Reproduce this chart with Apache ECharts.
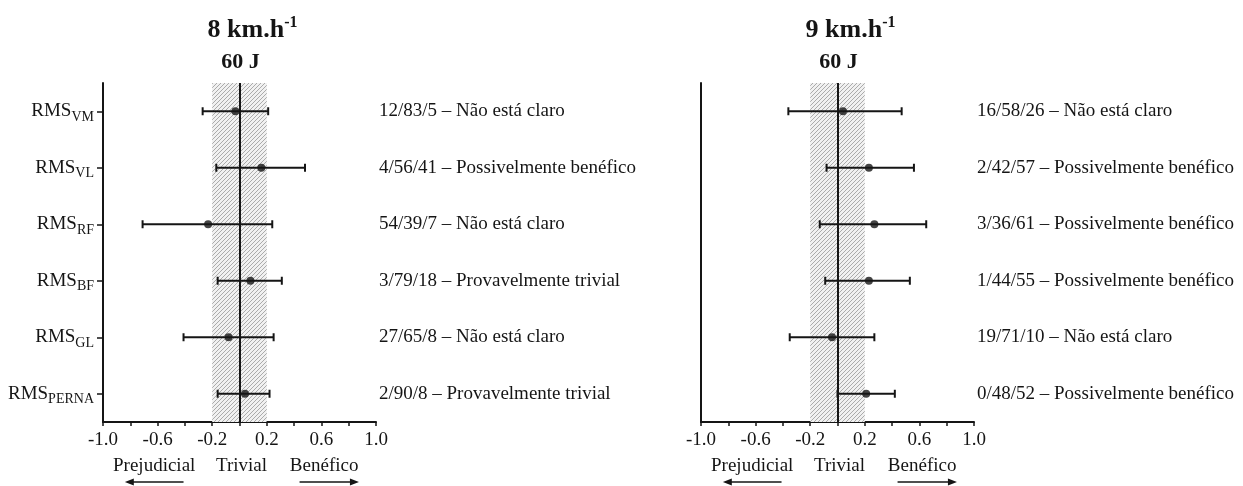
<!DOCTYPE html>
<html>
<head>
<meta charset="utf-8">
<script src="https://cdn.jsdelivr.net/npm/echarts@6/dist/echarts.min.js"></script>
<style>
  html, body { margin: 0; padding: 0; background: #fff; }
  #chart { width: 1243px; height: 486px; }
</style>
</head>
<body>
<div id="chart"></div>
<script>
// Muscles (subscript part of each RMS label), top to bottom
const muscles = ['VM', 'VL', 'RF', 'BF', 'GL', 'PERNA'];

// Panel headings
const speeds = ['8 km.h', '9 km.h'];
const energy = '60 J';

// 8 km/h: effect size and 90% confidence limits
const mean8 = [-0.03, 0.16, -0.23, 0.08, -0.08, 0.04];
const low8  = [-0.27, -0.17, -0.71, -0.16, -0.41, -0.16];
const high8 = [0.21, 0.48, 0.24, 0.31, 0.25, 0.22];
const verdict8 = [
  '12/83/5 – Não está claro',
  '4/56/41 – Possivelmente benéfico',
  '54/39/7 – Não está claro',
  '3/79/18 – Provavelmente trivial',
  '27/65/8 – Não está claro',
  '2/90/8 – Provavelmente trivial'
];

// 9 km/h: effect size and 90% confidence limits
const mean9 = [0.04, 0.23, 0.27, 0.23, -0.04, 0.21];
const low9  = [-0.36, -0.08, -0.13, -0.09, -0.35, 0.00];
const high9 = [0.47, 0.56, 0.65, 0.53, 0.27, 0.42];
const verdict9 = [
  '16/58/26 – Não está claro',
  '2/42/57 – Possivelmente benéfico',
  '3/36/61 – Possivelmente benéfico',
  '1/44/55 – Possivelmente benéfico',
  '19/71/10 – Não está claro',
  '0/48/52 – Possivelmente benéfico'
];

// Smallest worthwhile change band and axis range
const trivialBand = [-0.2, 0.2];
const xRange = [-1, 1];
const xStep = 0.2;

// Direction captions under each axis
const captions = ['Prejudicial', 'Trivial', 'Benéfico'];

const FONT = '"Liberation Serif", "Times New Roman", serif';
const INK = '#151515';

function hatchPattern() {
  const c = document.createElement('canvas');
  c.width = 4; c.height = 4;
  const g = c.getContext('2d');
  g.fillStyle = '#f1f1f1';
  g.fillRect(0, 0, 4, 4);
  g.strokeStyle = '#ababab';
  g.lineWidth = 1;
  g.beginPath();
  g.moveTo(-1, 5); g.lineTo(5, -1);
  g.moveTo(-1, 1); g.lineTo(1, -1);
  g.moveTo(3, 5); g.lineTo(5, 3);
  g.stroke();
  return c;
}
const hatch = hatchPattern();

function renderErrorBar(params, api) {
  const cat = api.value(0);
  const a = api.coord([api.value(1), cat]);
  const b = api.coord([api.value(2), cat]);
  const cap = 4;
  const style = { stroke: INK, lineWidth: 2 };
  return {
    type: 'group',
    children: [
      { type: 'line', shape: { x1: a[0], y1: a[1], x2: b[0], y2: b[1] }, style },
      { type: 'line', shape: { x1: a[0], y1: a[1] - cap, x2: a[0], y2: a[1] + cap }, style },
      { type: 'line', shape: { x1: b[0], y1: b[1] - cap, x2: b[0], y2: b[1] + cap }, style }
    ]
  };
}

function xAxisFor(gridIndex) {
  return {
    type: 'value', gridIndex,
    min: xRange[0], max: xRange[1], interval: xStep,
    splitLine: { show: false },
    axisLine: { show: true, onZero: false, lineStyle: { color: INK, width: 2 } },
    axisTick: { show: true, length: 4, lineStyle: { color: INK, width: 1.5 } },
    axisLabel: {
      margin: 9, fontFamily: FONT, fontSize: 19, color: INK,
      formatter: v => (Math.round((v - xRange[0]) / xStep) % 2 === 0 ? v.toFixed(1) : '')
    }
  };
}

function categoryAxis(gridIndex, withLabels) {
  return {
    type: 'category', gridIndex, inverse: true, data: muscles,
    axisLine: { show: true, onZero: false, lineStyle: { color: INK, width: 2 } },
    axisTick: { show: withLabels, alignWithLabel: true, length: 6, lineStyle: { color: INK, width: 1.5 } },
    axisLabel: {
      show: withLabels, margin: 9,
      formatter: v => '{a|RMS}{s|' + v + '}',
      rich: {
        a: { fontFamily: FONT, fontSize: 19, color: INK, lineHeight: 26 },
        s: { fontFamily: FONT, fontSize: 14, color: INK, verticalAlign: 'bottom', lineHeight: 14 }
      }
    },
    splitLine: { show: false }
  };
}

function verdictAxis(gridIndex, labels) {
  return {
    type: 'category', gridIndex, inverse: true, position: 'right', data: labels,
    axisLine: { show: false }, axisTick: { show: false }, splitLine: { show: false },
    axisLabel: { margin: 3, fontFamily: FONT, fontSize: 19, color: INK, align: 'left' }
  };
}

function panelSeries(xi, yi, mean, low, high) {
  return [
    {
      type: 'custom', xAxisIndex: xi, yAxisIndex: yi, z: 4,
      renderItem: renderErrorBar,
      encode: { x: [1, 2], y: 0 },
      data: muscles.map((m, i) => [i, low[i], high[i]]),
      silent: true
    },
    {
      type: 'scatter', xAxisIndex: xi, yAxisIndex: yi, z: 5,
      symbol: 'circle', symbolSize: 8,
      itemStyle: { color: INK },
      data: muscles.map((m, i) => [mean[i], i]),
      silent: true,
      markArea: {
        silent: true,
        itemStyle: { color: { image: hatch, repeat: 'repeat' } },
        data: [[{ xAxis: trivialBand[0] }, { xAxis: trivialBand[1] }]]
      },
      markLine: {
        silent: true, symbol: ['none', 'none'],
        label: { show: false },
        lineStyle: { color: INK, width: 2, type: 'solid' },
        data: [{ xAxis: 0 }]
      }
    }
  ];
}

const chart = echarts.init(document.getElementById('chart'), null, { renderer: 'canvas' });

chart.setOption({
  animation: false,
  backgroundColor: '#ffffff',
  grid: [
    { left: 103, right: 867, top: 83, bottom: 64 },
    { left: 701, right: 269, top: 83, bottom: 64 }
  ],
  xAxis: [xAxisFor(0), xAxisFor(1)],
  yAxis: [
    categoryAxis(0, true), verdictAxis(0, verdict8),
    categoryAxis(1, false), verdictAxis(1, verdict9)
  ],
  series: [
    ...panelSeries(0, 0, mean8, low8, high8),
    ...panelSeries(1, 2, mean9, low9, high9)
  ]
});

// Headings, direction captions and arrows, positioned on each panel's x scale
const graphics = [];
[0, 1].forEach(p => {
  const px = v => chart.convertToPixel({ xAxisIndex: p }, v);
  const x0 = px(0);
  graphics.push({
    type: 'text', x: x0 + 13, y: 30,
    style: {
      text: '{a|' + speeds[p] + '}{s|-1}', align: 'center', verticalAlign: 'middle',
      rich: {
        a: { fontFamily: FONT, fontSize: 26, fontWeight: 'bold', fill: INK, lineHeight: 30 },
        s: { fontFamily: FONT, fontSize: 16, fontWeight: 'bold', fill: INK, verticalAlign: 'top', lineHeight: 16 }
      }
    }
  });
  graphics.push({
    type: 'text', x: x0 + 1, y: 62,
    style: { text: energy, align: 'center', verticalAlign: 'middle',
      font: 'bold 22px ' + FONT, fill: INK }
  });
  const capX = [-0.625, 0.015, 0.62];
  captions.forEach((c, i) => graphics.push({
    type: 'text', x: px(capX[i]), y: 466,
    style: { text: c, align: 'center', verticalAlign: 'middle', font: '19px ' + FONT, fill: INK }
  }));
  const ay = 482;
  const arrow = (from, to) => {
    const a = px(from), b = px(to);
    const dir = Math.sign(b - a);
    graphics.push({ type: 'line', shape: { x1: a, y1: ay, x2: b - dir * 6, y2: ay },
      style: { stroke: INK, lineWidth: 1.5 } });
    graphics.push({ type: 'polygon',
      shape: { points: [[b, ay], [b - dir * 9, ay - 3.5], [b - dir * 9, ay + 3.5]] },
      style: { fill: INK } });
  };
  arrow(-0.41, -0.84);
  arrow(0.44, 0.875);
});
chart.setOption({ graphic: graphics });
</script>
</body>
</html>
